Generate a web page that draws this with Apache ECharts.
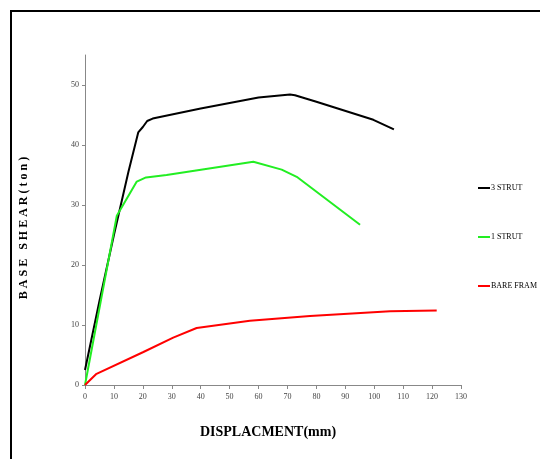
<!DOCTYPE html>
<html><head><meta charset="utf-8">
<script src="https://cdn.jsdelivr.net/npm/echarts@6/dist/echarts.min.js"></script>
<style>html,body{margin:0;padding:0;background:#fff}#c{width:540px;height:459px}</style>
</head><body><div id="c"></div>
<script>
const strut3 = [[0,2.5],[5,14],[10,25],[15,35.5],[18.4,42.1],[20,43],[21.5,44],[23.4,44.4],[40,46.1],[60,47.9],[70.9,48.4],[72.6,48.3],[80,47.2],[99.7,44.2],[106.8,42.6]];
const strut1 = [[0,0],[11,28.2],[17.9,33.9],[21.1,34.6],[28.2,35],[58.2,37.2],[68,35.9],[73.2,34.7],[95.1,26.7]];
const bare = [[0,0],[3.8,1.8],[20.2,5.5],[30.5,7.9],[38.6,9.5],[57,10.7],[77.8,11.5],[105.5,12.3],[121.6,12.4]];
const seriesNames = ['3 STRUT','1 STRUT','BARE FRAM'];
const yTicks = [0,10,20,30,40,50];
const xTitle = 'DISPLACMENT(mm)';
const yTitle = 'B A S E   S H E A R ( t o n )';

const chart = echarts.init(document.getElementById('c'));
const serif = '"Liberation Serif", "DejaVu Serif", serif';
function mk(name, data, color){
  return {name, type:'line', data, symbol:'none', lineStyle:{color, width:2}, itemStyle:{color}};
}
chart.setOption({
  animation:false,
  backgroundColor:'#fff',
  graphic:[{type:'rect', shape:{x:11, y:11, width:700, height:700}, style:{fill:'none', stroke:'#000', lineWidth:2}, silent:true}],
  grid:{left:85, right:79, top:55, bottom:74},
  legend:{orient:'vertical', left:473, top:179, itemGap:41, itemWidth:12, itemHeight:2, icon:'rect',
    textStyle:{fontFamily:serif, fontSize:8, color:'#000', padding:[0,0,0,-4]},
    data:seriesNames},
  xAxis:{type:'value', min:0, max:130, interval:10,
    axisLine:{lineStyle:{color:'#888', width:1}},
    axisTick:{show:true, length:4, lineStyle:{color:'#888'}},
    splitLine:{show:false},
    axisLabel:{fontFamily:serif, fontSize:8, color:'#444', margin:8},
    name:xTitle, nameLocation:'middle', nameGap:40,
    nameTextStyle:{fontFamily:serif, fontSize:14, fontWeight:'bold', color:'#000', padding:[0,0,0,-10]}},
  yAxis:{type:'value', min:0, max:55, interval:10,
    axisLine:{show:true, lineStyle:{color:'#888', width:1}},
    axisTick:{show:true, length:3, lineStyle:{color:'#888'}, customValues:yTicks},
    splitLine:{show:false},
    axisLabel:{fontFamily:serif, fontSize:8, color:'#444', margin:6, customValues:yTicks},
    name:yTitle, nameLocation:'middle', nameGap:55, nameRotate:90,
    nameTextStyle:{fontFamily:serif, fontSize:12, fontWeight:'bold', color:'#000', padding:[0,0,0,-16]}},
  series:[mk(seriesNames[0], strut3, '#000000'), mk(seriesNames[1], strut1, '#22ee22'), mk(seriesNames[2], bare, '#ff0000')]
});
</script></body></html>
